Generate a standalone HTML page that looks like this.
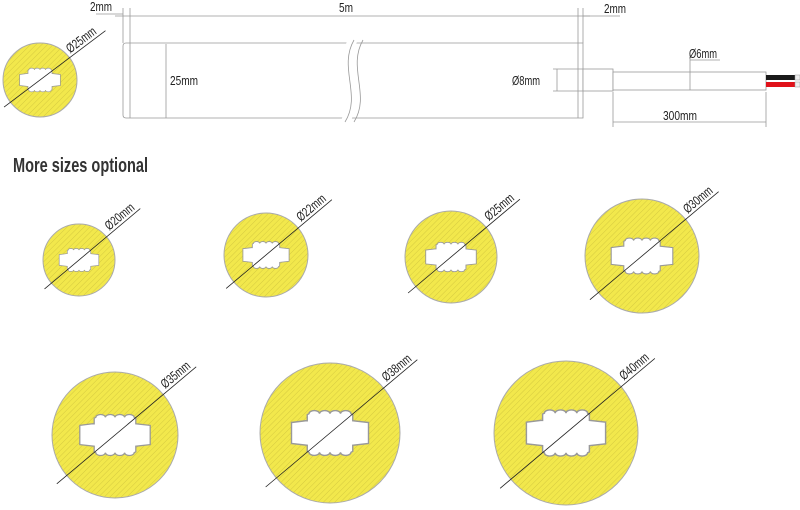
<!DOCTYPE html>
<html><head><meta charset="utf-8"><style>
html,body{margin:0;padding:0;background:#fff;width:800px;height:510px;overflow:hidden}
svg{display:block}
text{font-family:"Liberation Sans Narrow","Liberation Sans",sans-serif;fill:#222}
</style></head><body>
<svg width="800" height="510" viewBox="0 0 800 510" xmlns="http://www.w3.org/2000/svg">
<defs>
<pattern id="h" width="4" height="4" patternUnits="userSpaceOnUse" patternTransform="rotate(45)">
<rect width="4" height="4" fill="#f2e84c"/><line x1="0" y1="0" x2="0" y2="4" stroke="#c9bd3a" stroke-width="0.7"/>
</pattern>
<path id="hole" d="M-22,-6 L-14,-7 L-13,-7 L-13,-10.5 L-12,-11 a3,1.8 0 0 1 6,0 a3,1.8 0 0 1 6,0 a3,1.8 0 0 1 6,0 a3,1.8 0 0 1 6,0 L13,-10.5 L13,-7 L22,-6 L22,6 L13,7 L13,10.5 L12,11 a3,1.8 0 0 1 -6,0 a3,1.8 0 0 1 -6,0 a3,1.8 0 0 1 -6,0 a3,1.8 0 0 1 -6,0 L-13,10.5 L-13,7 L-22,6 Z" fill="#fff" stroke="#999" stroke-width="0.8"/>
</defs>
<g stroke="#999" stroke-width="0.8" fill="none">
<path d="M126,43 H583 V118 H126 Q123,118 123,115 V46 Q123,43 126,43 Z" fill="#fff"/>
<line x1="130" y1="43" x2="130" y2="118"/>
<line x1="166" y1="44" x2="166" y2="118"/>
<line x1="578" y1="43" x2="578" y2="118"/>
<line x1="123" y1="8" x2="123" y2="43"/><line x1="130" y1="8" x2="130" y2="43"/>
<line x1="578" y1="8" x2="578" y2="43"/><line x1="583" y1="8" x2="583" y2="43"/>
<line x1="115" y1="16" x2="590" y2="16"/>
<line x1="583" y1="16" x2="620" y2="16"/>
<line x1="96" y1="14" x2="123" y2="14"/>
<path d="M353,40 C335,70 362,95 345,122" stroke="#fff" stroke-width="9"/>
<path d="M354,40 C338,68 362,95 345,122"/><path d="M363,40 C347,68 371,95 354,122"/>
<rect x="583" y="69" width="30" height="22" fill="#fff"/>
<rect x="613" y="72" width="153" height="18" fill="#fff"/>
<line x1="557" y1="69" x2="557" y2="91"/><line x1="553" y1="69" x2="583" y2="69"/><line x1="553" y1="91" x2="583" y2="91"/>
<line x1="690" y1="55" x2="690" y2="90"/><line x1="690" y1="60" x2="720" y2="60"/>
<line x1="613" y1="92" x2="613" y2="127"/><line x1="766" y1="92" x2="766" y2="127"/>
<line x1="613" y1="122" x2="766" y2="122"/>
</g>
<rect x="766" y="75" width="29" height="5" fill="#1a1a1a"/>
<rect x="766" y="82" width="29" height="5" fill="#e0121a"/>
<rect x="795" y="75" width="5" height="5" fill="#eee" stroke="#999" stroke-width="0.5"/>
<rect x="795" y="82" width="5" height="5" fill="#eee" stroke="#999" stroke-width="0.5"/>
<g font-size="13">
<text x="90" y="11" textLength="22" lengthAdjust="spacingAndGlyphs">2mm</text>
<text x="339" y="12" textLength="14" lengthAdjust="spacingAndGlyphs">5m</text>
<text x="604" y="13" textLength="22" lengthAdjust="spacingAndGlyphs">2mm</text>
<text x="170" y="85" textLength="28" lengthAdjust="spacingAndGlyphs">25mm</text>
<text x="512" y="85" textLength="28" lengthAdjust="spacingAndGlyphs">Ø8mm</text>
<text x="689" y="58" textLength="28" lengthAdjust="spacingAndGlyphs">Ø6mm</text>
<text x="663" y="120" textLength="34" lengthAdjust="spacingAndGlyphs">300mm</text>
</g>
<text x="13" y="172" font-size="20" font-weight="bold" style="fill:#333" textLength="135" lengthAdjust="spacingAndGlyphs">More sizes optional</text>

<g transform="translate(40,80)"><circle r="37" fill="url(#h)" stroke="#aaa"/><use href="#hole" transform="scale(0.925)"/>
<g transform="rotate(-37)"><line x1="-45" y1="0" x2="82" y2="0" stroke="#222" stroke-width="0.8"/><text x="40" y="-3" font-size="13" textLength="34" lengthAdjust="spacingAndGlyphs">Ø25mm</text></g></g>

<g transform="translate(79,260)"><circle r="36" fill="url(#h)" stroke="#aaa"/><use href="#hole" transform="scale(0.9)"/>
<g transform="rotate(-40)"><line x1="-45" y1="0" x2="80" y2="0" stroke="#222" stroke-width="0.8"/><text x="42" y="-3" font-size="13" textLength="34" lengthAdjust="spacingAndGlyphs">Ø20mm</text></g></g>

<g transform="translate(266,255)"><circle r="42" fill="url(#h)" stroke="#aaa"/><use href="#hole" transform="scale(1.05)"/>
<g transform="rotate(-40)"><line x1="-52" y1="0" x2="86" y2="0" stroke="#222" stroke-width="0.8"/><text x="48" y="-3" font-size="13" textLength="34" lengthAdjust="spacingAndGlyphs">Ø22mm</text></g></g>

<g transform="translate(451,257)"><circle r="46" fill="url(#h)" stroke="#aaa"/><use href="#hole" transform="scale(1.15)"/>
<g transform="rotate(-40)"><line x1="-56" y1="0" x2="90" y2="0" stroke="#222" stroke-width="0.8"/><text x="52" y="-3" font-size="13" textLength="34" lengthAdjust="spacingAndGlyphs">Ø25mm</text></g></g>

<g transform="translate(642,256)"><circle r="57" fill="url(#h)" stroke="#aaa"/><use href="#hole" transform="scale(1.4)"/>
<g transform="rotate(-40)"><line x1="-68" y1="0" x2="100" y2="0" stroke="#222" stroke-width="0.8"/><text x="62" y="-3" font-size="13" textLength="34" lengthAdjust="spacingAndGlyphs">Ø30mm</text></g></g>

<g transform="translate(115,435)"><circle r="63" fill="url(#h)" stroke="#aaa"/><use href="#hole" transform="scale(1.6)"/>
<g transform="rotate(-40)"><line x1="-76" y1="0" x2="106" y2="0" stroke="#222" stroke-width="0.8"/><text x="68" y="-3" font-size="13" textLength="34" lengthAdjust="spacingAndGlyphs">Ø35mm</text></g></g>

<g transform="translate(330,433)"><circle r="70" fill="url(#h)" stroke="#aaa"/><use href="#hole" transform="scale(1.75)"/>
<g transform="rotate(-40)"><line x1="-84" y1="0" x2="114" y2="0" stroke="#222" stroke-width="0.8"/><text x="76" y="-3" font-size="13" textLength="34" lengthAdjust="spacingAndGlyphs">Ø38mm</text></g></g>

<g transform="translate(566,433)"><circle r="72" fill="url(#h)" stroke="#aaa"/><use href="#hole" transform="scale(1.8)"/>
<g transform="rotate(-40)"><line x1="-86" y1="0" x2="116" y2="0" stroke="#222" stroke-width="0.8"/><text x="78" y="-3" font-size="13" textLength="34" lengthAdjust="spacingAndGlyphs">Ø40mm</text></g></g>
</svg>
</body></html>
